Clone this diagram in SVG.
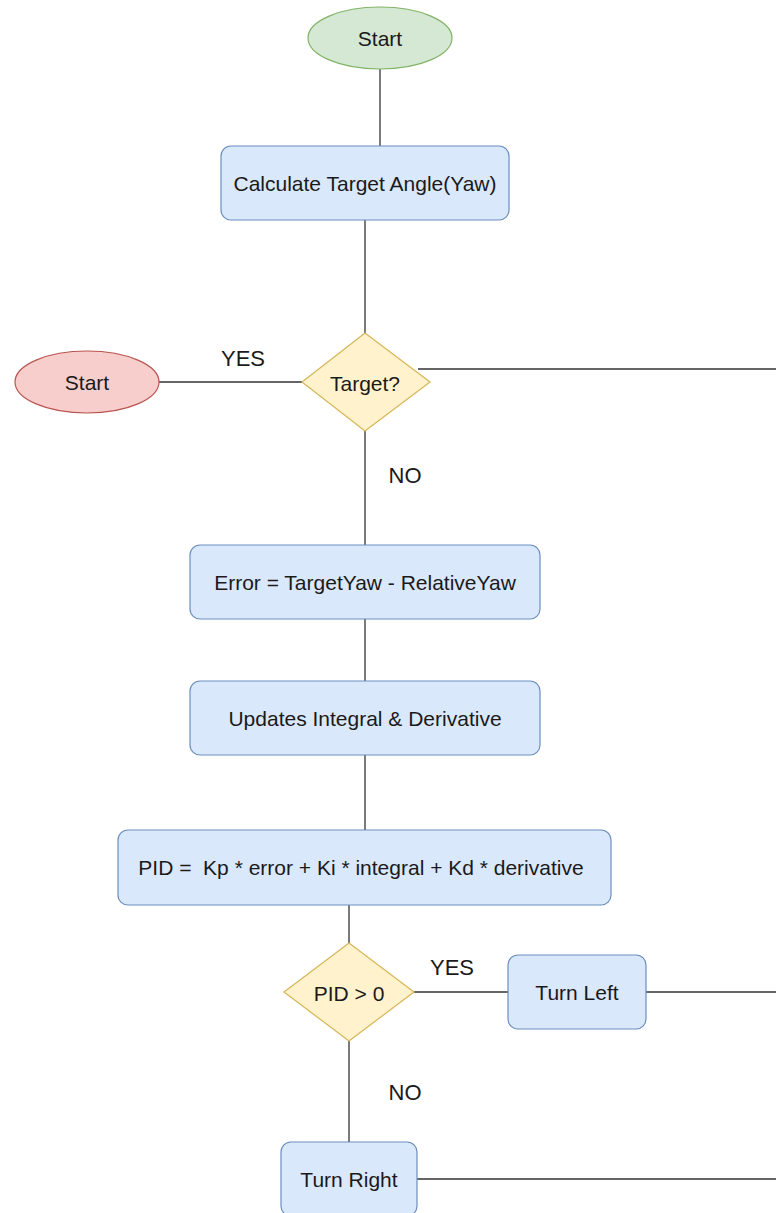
<svg xmlns="http://www.w3.org/2000/svg" width="776" height="1213" viewBox="0 0 776 1213">
<style>
text{font-family:"Liberation Sans",Arial,sans-serif;font-size:21px;fill:#1a1a1a;text-anchor:middle;dominant-baseline:central}
.lbl{font-size:22px}
.box{fill:#dae8fc;stroke:#6c8ebf;stroke-width:1.2}
.dia{fill:#fff2cc;stroke:#d6b656;stroke-width:1.2}
.conn line{stroke:#333;stroke-width:1.3}
</style>
<rect width="776" height="1213" fill="#fff"/>
<g id="connectors" class="conn">
<line x1="380" y1="69" x2="380" y2="146"/>
<line x1="365" y1="220" x2="365" y2="333"/>
<line x1="418" y1="369" x2="776" y2="369"/>
<line x1="159" y1="382" x2="302" y2="382"/>
<line x1="365" y1="431" x2="365" y2="545"/>
<line x1="365" y1="619" x2="365" y2="681"/>
<line x1="365" y1="755" x2="365" y2="830"/>
<line x1="349" y1="905" x2="349" y2="943"/>
<line x1="414" y1="992" x2="508" y2="992"/>
<line x1="646" y1="992" x2="776" y2="992"/>
<line x1="349" y1="1041" x2="349" y2="1142"/>
<line x1="417" y1="1179" x2="776" y2="1179"/>
</g>
<g id="labels">
<text class="lbl" x="243" y="358">YES</text>
<text class="lbl" x="405" y="475">NO</text>
<text class="lbl" x="452" y="967">YES</text>
<text class="lbl" x="405" y="1092">NO</text>
</g>
<g id="start-top">
<ellipse cx="380" cy="38" rx="72" ry="31" fill="#d5e8d4" stroke="#82b366" stroke-width="1.2"/>
<text x="380" y="38">Start</text>
</g>
<g id="calc">
<rect class="box" x="221" y="146" width="288" height="74" rx="10"/>
<text x="365" y="183">Calculate Target Angle(Yaw)</text>
</g>
<g id="target">
<polygon class="dia" points="365,333 430,382 365,431 302,382"/>
<text x="365" y="383">Target?</text>
</g>
<g id="start-left">
<ellipse cx="87" cy="382" rx="72" ry="31" fill="#f8cecc" stroke="#b85450" stroke-width="1.2"/>
<text x="87" y="382">Start</text>
</g>
<g id="error">
<rect class="box" x="190" y="545" width="350" height="74" rx="10"/>
<text x="365" y="582">Error = TargetYaw - RelativeYaw</text>
</g>
<g id="updates">
<rect class="box" x="190" y="681" width="350" height="74" rx="10"/>
<text x="365" y="718">Updates Integral &amp; Derivative</text>
</g>
<g id="pid">
<rect class="box" x="118" y="830" width="493" height="75" rx="10"/>
<text x="361" y="867" xml:space="preserve">PID =  Kp * error + Ki * integral + Kd * derivative</text>
</g>
<g id="pid-check">
<polygon class="dia" points="349,943 414,992 349,1041 284,992"/>
<text x="349" y="993">PID &gt; 0</text>
</g>
<g id="turn-left">
<rect class="box" x="508" y="955" width="138" height="74" rx="10"/>
<text x="577" y="992">Turn Left</text>
</g>
<g id="turn-right">
<rect class="box" x="281" y="1142" width="136" height="74" rx="10"/>
<text x="349" y="1179">Turn Right</text>
</g>
</svg>
